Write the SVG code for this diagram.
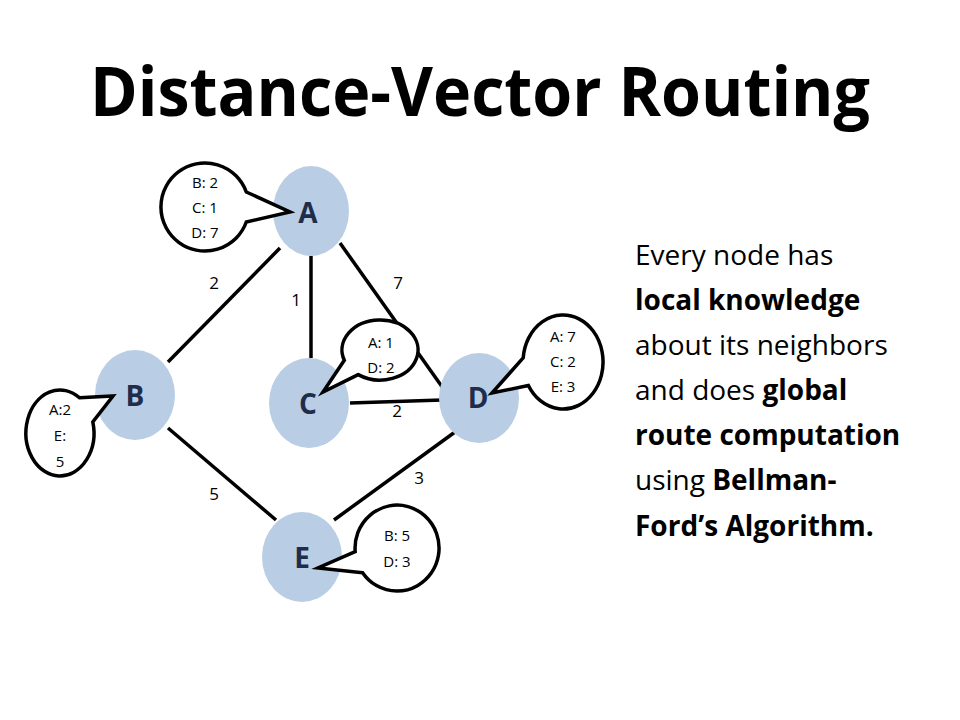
<svg xmlns="http://www.w3.org/2000/svg" width="960" height="720" viewBox="0 0 960 720">
<style>
.title{font-family:"Open Sans","Liberation Sans",Arial,sans-serif;font-weight:bold;font-size:68px;fill:#000}
.node{fill:#b9cde5}
.nl{font-family:"Open Sans","Liberation Sans",sans-serif;font-weight:bold;font-size:28px;fill:#1f2d4a;text-anchor:middle}
.edge{stroke:#000;stroke-width:3.5;fill:none}
.w{font-family:"Open Sans","Liberation Sans",sans-serif;font-size:17px;fill:#000;text-anchor:middle}
.bub{fill:#fff;stroke:#000;stroke-width:3.5;stroke-linejoin:miter}
.bt{font-family:"Open Sans","Liberation Sans",sans-serif;font-size:15px;fill:#000;text-anchor:middle}
.body{font-family:"Open Sans","Liberation Sans",sans-serif;font-size:28px;fill:#000}
.b{font-weight:bold}
</style>
<rect width="960" height="720" fill="#fff"/>
<text class="title" x="480" y="116" text-anchor="middle" textLength="780" lengthAdjust="spacingAndGlyphs">Distance-Vector Routing</text>
<g id="connectors">
<line class="edge" x1="280" y1="248" x2="168" y2="362"/>
<line class="edge" x1="311" y1="256" x2="311" y2="358"/>
<line class="edge" x1="340" y1="243" x2="455" y2="405"/>
<line class="edge" x1="350" y1="403" x2="442" y2="400"/>
<line class="edge" x1="168" y1="428" x2="276" y2="520"/>
<line class="edge" x1="455" y1="432" x2="334" y2="520"/>
<text class="w" x="214" y="289">2</text>
<text class="w" x="296" y="306">1</text>
<text class="w" x="398" y="289">7</text>
<text class="w" x="397" y="417">2</text>
<text class="w" x="214" y="500">5</text>
<text class="w" x="419" y="484">3</text>
</g>
<g id="A"><ellipse class="node" cx="311" cy="211" rx="38" ry="45"/><text class="nl" x="308" y="223">A</text></g>
<g id="B"><ellipse class="node" cx="135" cy="395" rx="40" ry="45"/><text class="nl" x="135" y="406">B</text></g>
<g id="C"><ellipse class="node" cx="309" cy="403" rx="40" ry="45"/><text class="nl" x="308" y="414">C</text></g>
<g id="D"><ellipse class="node" cx="479" cy="398" rx="40" ry="45"/><text class="nl" x="478" y="408">D</text></g>
<g id="E"><ellipse class="node" cx="302" cy="557" rx="40" ry="45"/><text class="nl" x="302" y="568">E</text></g>
<g id="bubbleA"><path class="bub" d="M246.3,192 L290,212 L246.3,222 A44 44 0 1 1 246.3,192 Z"/>
<text class="bt" x="205" y="188">B: 2</text><text class="bt" x="205" y="213">C: 1</text><text class="bt" x="205" y="238">D: 7</text></g>
<g id="bubbleC"><path class="bub" d="M358.2,374.6 L323,392 L344.3,360.3 A38 30 0 1 1 358.2,374.6 Z"/>
<text class="bt" x="381" y="348">A: 1</text><text class="bt" x="381" y="373">D: 2</text></g>
<g id="bubbleD"><path class="bub" d="M528.4,385.5 L492,393 L523.2,357.9 A40 47 0 1 1 528.4,385.5 Z"/>
<text class="bt" x="563" y="342">A: 7</text><text class="bt" x="563" y="367">C: 2</text><text class="bt" x="563" y="392">E: 3</text></g>
<g id="bubbleB"><path class="bub" d="M79.5,397.8 L113,396 L92.8,421.9 A34 43 0 1 1 79.5,397.8 Z"/>
<text class="bt" x="60" y="415">A:2</text><text class="bt" x="60" y="441">E:</text><text class="bt" x="60" y="467">5</text></g>
<g id="bubbleE"><path class="bub" d="M362.6,572.7 L318,568 L355.2,551.7 A42 43 0 1 1 362.6,572.7 Z"/>
<text class="bt" x="397" y="541">B: 5</text><text class="bt" x="397" y="567">D: 3</text></g>
<g id="description">
<text class="body" x="635" y="265">Every node has</text>
<text class="body b" x="635" y="310">local knowledge</text>
<text class="body" x="635" y="355">about its neighbors</text>
<text class="body" x="635" y="400">and does <tspan class="b">global</tspan></text>
<text class="body b" x="635" y="445">route computation</text>
<text class="body" x="635" y="490">using <tspan class="b">Bellman-</tspan></text>
<text class="body b" x="635" y="536">Ford’s Algorithm.</text>
</g>
</svg>
